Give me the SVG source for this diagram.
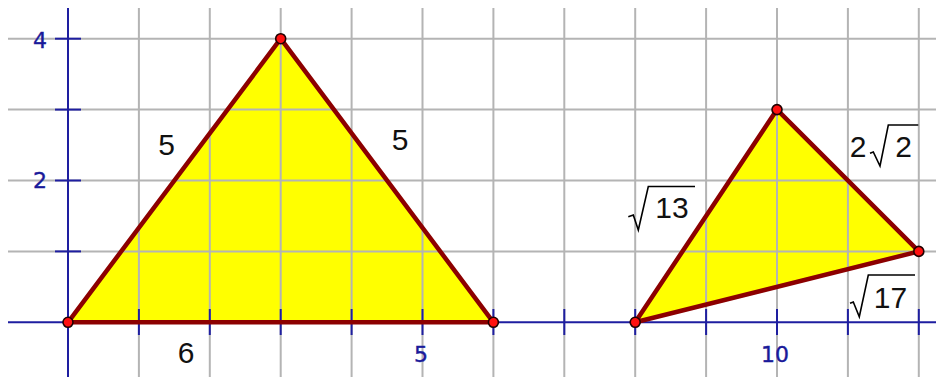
<svg xmlns="http://www.w3.org/2000/svg" width="936" height="377" viewBox="0 0 936 377">
<style>
.fill{fill:#ffff00;stroke:none}
.grid line{stroke:#b4b4b4;stroke-width:2}
.axis line{stroke:#1e1ea0;stroke-width:2}
.edge{fill:none;stroke:#8c0000;stroke-width:4.5;stroke-linejoin:round}
.pt{fill:#ff1010;stroke:#200000;stroke-width:1.6}
.ax{font-family:"DejaVu Sans",sans-serif;font-size:22px;fill:#1a1a9a;stroke:#1a1a9a;stroke-width:0.4;text-anchor:middle}
.lb{font-family:"Liberation Sans",Arial,sans-serif;font-size:30px;fill:#111;text-anchor:middle}
.rad{fill:none;stroke:#000;stroke-width:1.6}
</style>
<rect width="936" height="377" fill="#fff"/>
<g id="fills">
<polygon class="fill" points="68,322.3 280.7,38.7 493.4,322.3"/>
<polygon class="fill" points="635.2,322.3 777,109.6 918.8,251.4"/>
</g>
<g class="grid">
<line x1="8" y1="38.7" x2="936" y2="38.7"/>
<line x1="8" y1="109.6" x2="936" y2="109.6"/>
<line x1="8" y1="180.5" x2="936" y2="180.5"/>
<line x1="8" y1="251.4" x2="936" y2="251.4"/>
<line x1="138.9" y1="8" x2="138.9" y2="377"/>
<line x1="209.8" y1="8" x2="209.8" y2="377"/>
<line x1="280.7" y1="8" x2="280.7" y2="377"/>
<line x1="351.6" y1="8" x2="351.6" y2="377"/>
<line x1="422.5" y1="8" x2="422.5" y2="377"/>
<line x1="493.4" y1="8" x2="493.4" y2="377"/>
<line x1="564.3" y1="8" x2="564.3" y2="377"/>
<line x1="635.2" y1="8" x2="635.2" y2="377"/>
<line x1="706.1" y1="8" x2="706.1" y2="377"/>
<line x1="777" y1="8" x2="777" y2="377"/>
<line x1="847.9" y1="8" x2="847.9" y2="377"/>
<line x1="918.8" y1="8" x2="918.8" y2="377"/>
</g>
<g class="axis">
<line x1="8" y1="322.3" x2="936" y2="322.3"/>
<line x1="68" y1="8" x2="68" y2="377"/>
<line x1="55" y1="38.7" x2="81" y2="38.7"/>
<line x1="55" y1="109.6" x2="81" y2="109.6"/>
<line x1="55" y1="180.5" x2="81" y2="180.5"/>
<line x1="55" y1="251.4" x2="81" y2="251.4"/>
<line x1="138.9" y1="309" x2="138.9" y2="335"/>
<line x1="209.8" y1="309" x2="209.8" y2="335"/>
<line x1="280.7" y1="309" x2="280.7" y2="335"/>
<line x1="351.6" y1="309" x2="351.6" y2="335"/>
<line x1="422.5" y1="309" x2="422.5" y2="335"/>
<line x1="493.4" y1="309" x2="493.4" y2="335"/>
<line x1="564.3" y1="309" x2="564.3" y2="335"/>
<line x1="635.2" y1="309" x2="635.2" y2="335"/>
<line x1="706.1" y1="309" x2="706.1" y2="335"/>
<line x1="777" y1="309" x2="777" y2="335"/>
<line x1="847.9" y1="309" x2="847.9" y2="335"/>
<line x1="918.8" y1="309" x2="918.8" y2="335"/>
</g>
<g id="axis-labels">
<text class="ax" x="40" y="48">4</text>
<text class="ax" x="40" y="188">2</text>
<text class="ax" x="421" y="362">5</text>
<text class="ax" x="775" y="362">10</text>
</g>
<g id="triangle1">
<polygon class="edge" points="68,322.3 280.7,38.7 493.4,322.3"/>
<circle class="pt" cx="68" cy="322.3" r="5"/>
<circle class="pt" cx="280.7" cy="38.7" r="5"/>
<circle class="pt" cx="493.4" cy="322.3" r="5"/>
<text class="lb" x="166.5" y="155">5</text>
<text class="lb" x="400" y="150">5</text>
<text class="lb" x="186" y="363">6</text>
</g>
<g id="triangle2">
<polygon class="edge" points="635.2,322.3 777,109.6 918.8,251.4"/>
<circle class="pt" cx="635.2" cy="322.3" r="5"/>
<circle class="pt" cx="777" cy="109.6" r="5"/>
<circle class="pt" cx="918.8" cy="251.4" r="5"/>
<path class="rad" d="M628.3,216.7 L633.3,215 L638.3,230 L648.3,186.5 L695,186.5"/>
<text class="lb" x="672" y="218">13</text>
<text class="lb" x="858" y="157">2</text>
<path class="rad" d="M870,153.3 L873.3,152 L880,166 L888.3,125 L918.3,125"/>
<text class="lb" x="903.5" y="157">2</text>
<path class="rad" d="M850,303.3 L853.3,302 L859.3,316.7 L868.3,275 L915,275"/>
<text class="lb" x="890.5" y="308">17</text>
</g>
</svg>
